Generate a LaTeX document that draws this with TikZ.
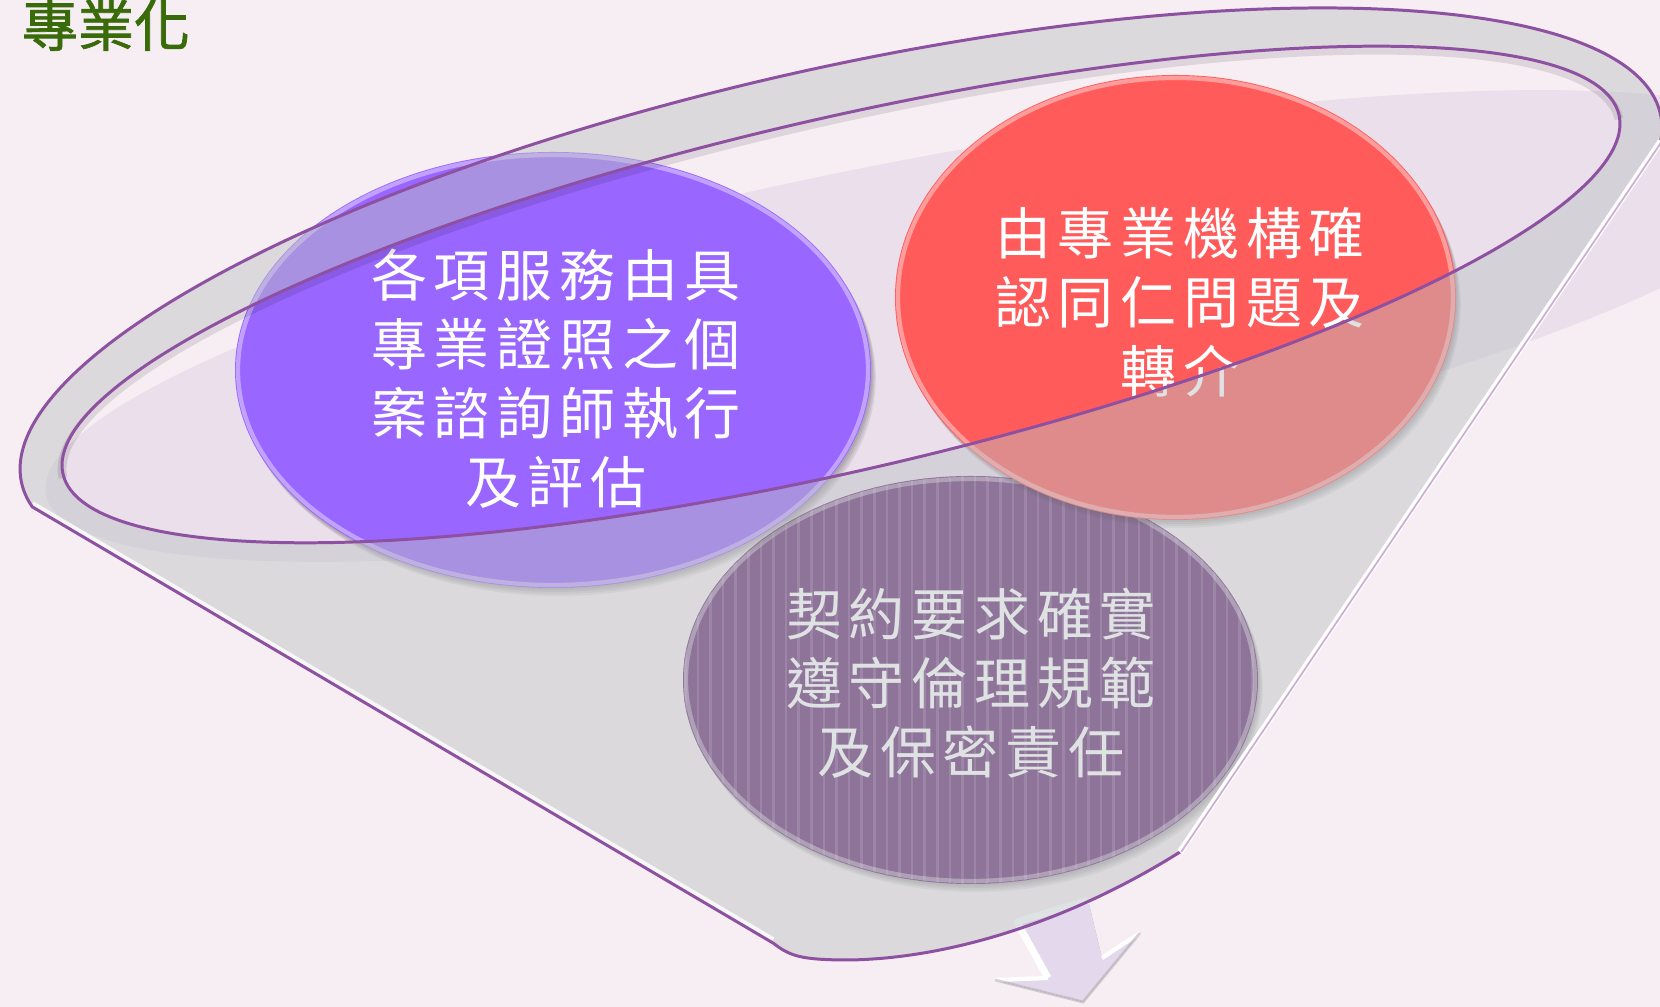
\documentclass[tikz,border=0pt]{standalone}
\usepackage{fontspec}
\newfontfamily\cjk{Noto Sans CJK TC}
\newfontfamily\cjktitle[FakeBold=1.3]{Noto Sans CJK TC}
\newfontfamily\cjkls[LetterSpace=12]{Noto Sans CJK TC}
\definecolor{bgc}{HTML}{F7EEF4}
\definecolor{liqc}{HTML}{EADFEB}
\definecolor{ovlc}{RGB}{188,194,195}
\definecolor{flinec}{HTML}{8E50A0}
\definecolor{cpurple}{HTML}{9966FF}
\definecolor{cred}{HTML}{FF5B5B}
\definecolor{cstripe}{HTML}{672F74}
\definecolor{cstripeL}{HTML}{835090}
\definecolor{arrowc}{HTML}{E3D8EC}
\definecolor{titlec}{HTML}{3A6B0A}
\begin{document}
\begin{tikzpicture}[x=0.01cm,y=-0.01cm,
  circtext/.style={text=white, align=center, inner sep=0pt,
    font=\cjkls\fontsize{15.93pt}{19.63pt}\selectfont},
  fline/.style={draw=flinec, line width=0.85pt},
  glint/.style={draw=white, draw opacity=.4, line width=1.2pt},
  softshadow/.style={fill=black, fill opacity=.07},
]
\useasboundingbox (0,0) rectangle (1660,1007);
\fill[bgc] (0,0) rectangle (1660,1007);
\clip (0,0) rectangle (1660,1007);

% key points of the funnel
\coordinate (lJ) at (32.3,507);
\coordinate (rJ) at (1660.8,141.2);
\coordinate (bL) at (773,943);
\coordinate (bR) at (1180,852);

% light purple liquid
\fill[liqc] plot[domain=0:360,samples=240]
  ({930+884.1*cos(\x)-31.5*sin(\x)},{326-168.6*cos(\x)-165*sin(\x)}) -- cycle;

% arrow at the bottom (behind the funnel)
\coordinate (aTL) at (1017,922);
\coordinate (aTR) at (1088,900);
\coordinate (aRI) at (1102,958);
\coordinate (aRT) at (1140,933);
\coordinate (aTip) at (1083,1002);
\coordinate (aLT) at (995,980);
\coordinate (aLI) at (1048,978);
\begin{scope}[shift={(6,8)}]
  \fill[black, opacity=.28] (aTL) -- (aTR) -- (aRI) -- (aRT) -- (aTip) -- (aLT) -- (aLI) -- cycle;
\end{scope}
\fill[arrowc] (aTL) -- (aTR) -- (aRI) -- (aRT) -- (aTip) -- (aLT) -- (aLI) -- cycle;
\draw[white, line width=2pt, line join=round] (aLI) -- (aTL) -- (aTR);
\draw[white, line width=1.2pt] (aLT) -- (aLI);
\draw[white, line width=1.2pt] (aRI) -- (aRT);
\draw[black!35, opacity=.5, line width=0.8pt] (aLT) -- (aTip) -- (aRT);

% striped circle
\coordinate (sc) at (970.5,680);
\foreach \d in {2,4,6,8} \fill[softshadow] (sc) ++(\d*0.6,\d) ellipse [x radius=287.5, y radius=204];
\fill[cstripe] (sc) ellipse [x radius=287.5, y radius=204];
\begin{scope}
  \clip (sc) ellipse [x radius=287.5, y radius=204];
  \foreach \i in {0,...,46} \fill[cstripeL] ({684+\i*12.6},470) rectangle ++(2.6,420);
\end{scope}
\draw[glint] (sc) ellipse [x radius=284.5, y radius=201];
\node[circtext] (st) at (971,683) {契約要求確實\\遵守倫理規範\\及保密責任};

% purple circle
\coordinate (pc) at (553,370);
\foreach \d in {2,4,6,8} \fill[softshadow] (pc) ++(\d*0.6,\d) ellipse [x radius=318, y radius=218];
\fill[cpurple] (pc) ellipse [x radius=318, y radius=218];
\draw[glint] (pc) ellipse [x radius=315, y radius=215];
\node[circtext] (pt) at (556,378.5) {各項服務由具\\專業證照之個\\案諮詢師執行\\及評估};

% red circle
\coordinate (rc) at (1175.5,297.5);
\foreach \d in {2,4,6,8} \fill[softshadow] (rc) ++(\d*0.6,\d) ellipse [x radius=280.5, y radius=222.5];
\fill[cred] (rc) ellipse [x radius=280.5, y radius=222.5];
\draw[glint] (rc) ellipse [x radius=277.5, y radius=219.5];
\node[circtext] (rt) at (1180,302) {由專業機構確\\認同仁問題及\\轉介};

% translucent funnel body (rim + cone), inner opening left clear
\fill[ovlc, opacity=.47, even odd rule]
  plot[domain=-6.7:186.4,samples=260]
    ({841+819.4*cos(\x)-50.55*sin(\x)},{298.5-184.6*cos(\x)-224.4*sin(\x)})
  -- (bL) .. controls (790,956) and (800,960) .. (850,960)
  .. controls (960,958) and (1080,915) .. (bR) -- cycle
  plot[domain=0:360,samples=300]
    ({841+778.0*cos(\x)-39.59*sin(\x)},{294.5-179.6*cos(\x)-171.5*sin(\x)}) -- cycle;

% soft shadow under inner rim line
\draw[black, opacity=.10, line width=2.5pt]
  plot[domain=0:180,samples=200]
    ({841+778.0*cos(\x)-39.59*sin(\x)},{298.5-179.6*cos(\x)-171.5*sin(\x)});

% inner rim line
\draw[fline] plot[domain=0:360,samples=300]
    ({841+778.0*cos(\x)-39.59*sin(\x)},{294.5-179.6*cos(\x)-171.5*sin(\x)}) -- cycle;

% outer outline
\draw[white, opacity=.8, line width=1.6pt] (lJ) ++(0,-3) -- ([yshift=0.03cm]bL);
\draw[fline, line join=round]
  plot[domain=-6.7:186.4,samples=260]
    ({841+819.4*cos(\x)-50.55*sin(\x)},{298.5-184.6*cos(\x)-224.4*sin(\x)})
  -- (bL) .. controls (790,956) and (800,960) .. (850,960)
  .. controls (960,958) and (1080,915) .. (bR);
\draw[white, line width=1.8pt] (bR) -- (rJ);
\draw[flinec!45, line width=0.5pt] ([xshift=0.012cm]bR) -- ([xshift=0.012cm]rJ);

% title
\node[font=\cjktitle\fontsize{15.93pt}{18pt}\selectfont, text=titlec, inner sep=0pt]
  (title) at (106,25) {專業化};
\end{tikzpicture}
\end{document}
